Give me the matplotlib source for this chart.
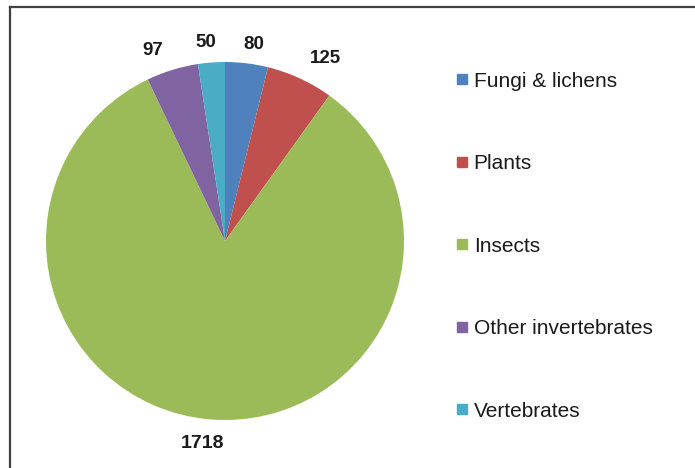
import matplotlib.pyplot as plt
from matplotlib.lines import Line2D

plt.rcParams["font.family"] = ["Liberation Sans", "DejaVu Sans"]

categorias = ["Fungi & lichens", "Plants", "Insects", "Other invertebrates", "Vertebrates"]
valores = [80, 125, 1718, 97, 50]
cores = ["#4F81BD", "#C0504D", "#9BBB59", "#8064A2", "#4BACC6"]

# deslocamento dos rótulos (pixels, y para cima) para imitar a posição do original
ajuste_rotulos = [(5, 1), (18, 4), (-5, -6), (-14, 2), (-4, 2)]

fig = plt.figure(figsize=(6.95, 4.68), dpi=100)
W, H = 695, 468
cx, cy, r = 225, 241, 179
ax = fig.add_axes([(cx - r) / W, (H - cy - r) / H, 2 * r / W, 2 * r / H])

wedges, textos = ax.pie(
    valores,
    colors=cores,
    startangle=90,
    counterclock=False,
    labels=[str(v) for v in valores],
    labeldistance=1.1,
    textprops={"fontsize": 13.5, "fontweight": "bold", "color": "#1a1a1a"},
)
ax.set_xlim(-1, 1)
ax.set_ylim(-1, 1)

for t, (dx, dy) in zip(textos, ajuste_rotulos):
    t.set_ha("center")
    t.set_va("center")
    x, y = t.get_position()
    t.set_position((x + dx / r, y + dy / r))
textos[2].set_fontsize(14)

handles = [Line2D([], [], marker="s", linestyle="none", markersize=7.2,
                  markerfacecolor=c, markeredgecolor=c) for c in cores]
fig.legend(handles, categorias, loc="upper left", bbox_to_anchor=(0.653, 0.847),
           frameon=False, fontsize=15, labelspacing=3.05, handlelength=0.8,
           handletextpad=0.15, borderpad=0, borderaxespad=0,
           labelcolor="#1a1a1a")

# moldura parcial (topo e esquerda)
fig.add_artist(Line2D([10 / W, 1], [1 - 7 / H, 1 - 7 / H], color="#404040", lw=1.6))
fig.add_artist(Line2D([10 / W, 10 / W], [0, 1 - 7 / H], color="#404040", lw=1.6))

fig.savefig("out.png", dpi=100)
